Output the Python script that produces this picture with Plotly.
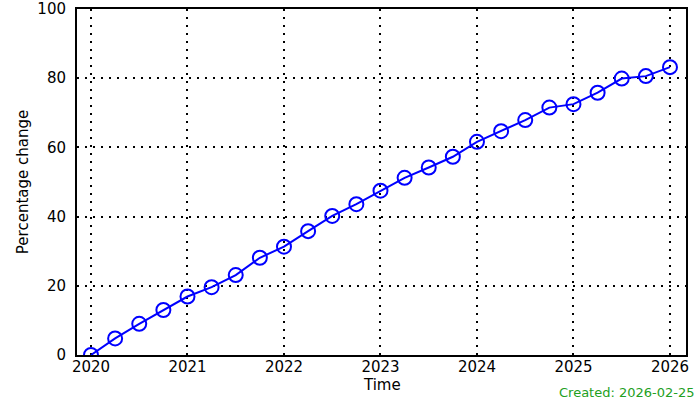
import plotly.graph_objects as go

time = [2020.0, 2020.25, 2020.5, 2020.75, 2021.0, 2021.25, 2021.5, 2021.75,
        2022.0, 2022.25, 2022.5, 2022.75, 2023.0, 2023.25, 2023.5, 2023.75,
        2024.0, 2024.25, 2024.5, 2024.75, 2025.0, 2025.25, 2025.5, 2025.75, 2026.0]
pct_change = [0.0, 4.8, 9.0, 13.0, 16.9, 19.6, 23.1, 28.1,
              31.3, 35.8, 40.2, 43.6, 47.5, 51.2, 54.2, 57.3,
              61.6, 64.7, 67.9, 71.5, 72.5, 75.8, 79.9, 80.6, 83.2]
x_ticks = [2020, 2021, 2022, 2023, 2024, 2025, 2026]
y_ticks = [0, 20, 40, 60, 80, 100]
created_label = "Created: 2026-02-25"
x_title = "Time"
y_title = "Percentage change"

fig = go.Figure()
fig.add_trace(go.Scatter(
    x=time, y=pct_change, mode="lines+markers",
    line=dict(color="#0000ff", width=2),
    marker=dict(symbol="circle-open", size=14, color="#0000ff", line=dict(width=2)),
    showlegend=False,
))

axis_common = dict(
    showline=True, linecolor="black", linewidth=2, mirror=True,
    showgrid=True, gridcolor="black", gridwidth=1.5, griddash="2px,6px",
    zeroline=False, ticks="", automargin=False,
    tickfont=dict(family="DejaVu Sans", size=15, color="black"),
)

fig.update_layout(
    width=700, height=400,
    margin=dict(l=77, r=14, t=9, b=45),
    paper_bgcolor="white", plot_bgcolor="white",
    font=dict(family="DejaVu Sans", size=15, color="black"),
    xaxis=dict(range=[2019.855, 2026.166], tickvals=x_ticks,
               ticktext=[str(v) for v in x_ticks], ticklabelstandoff=-3, **axis_common),
    yaxis=dict(range=[0, 100], tickvals=y_ticks, ticklabelstandoff=6,
               title=dict(text=y_title, standoff=5, font=dict(size=15)), **axis_common),
    annotations=[
        dict(text=x_title, xref="paper", yref="paper", x=0.5, y=-0.086,
             xanchor="center", yanchor="middle", showarrow=False,
             font=dict(color="black", size=15, family="DejaVu Sans")),
        dict(text=created_label, xref="paper", yref="paper",
             x=1.018, y=-0.108, xanchor="right", yanchor="middle",
             showarrow=False, font=dict(color="#22a022", size=13, family="DejaVu Sans")),
    ],
)

fig.write_html("out.html", config={"displayModeBar": False},
               post_script="document.body.style.margin='0';")
